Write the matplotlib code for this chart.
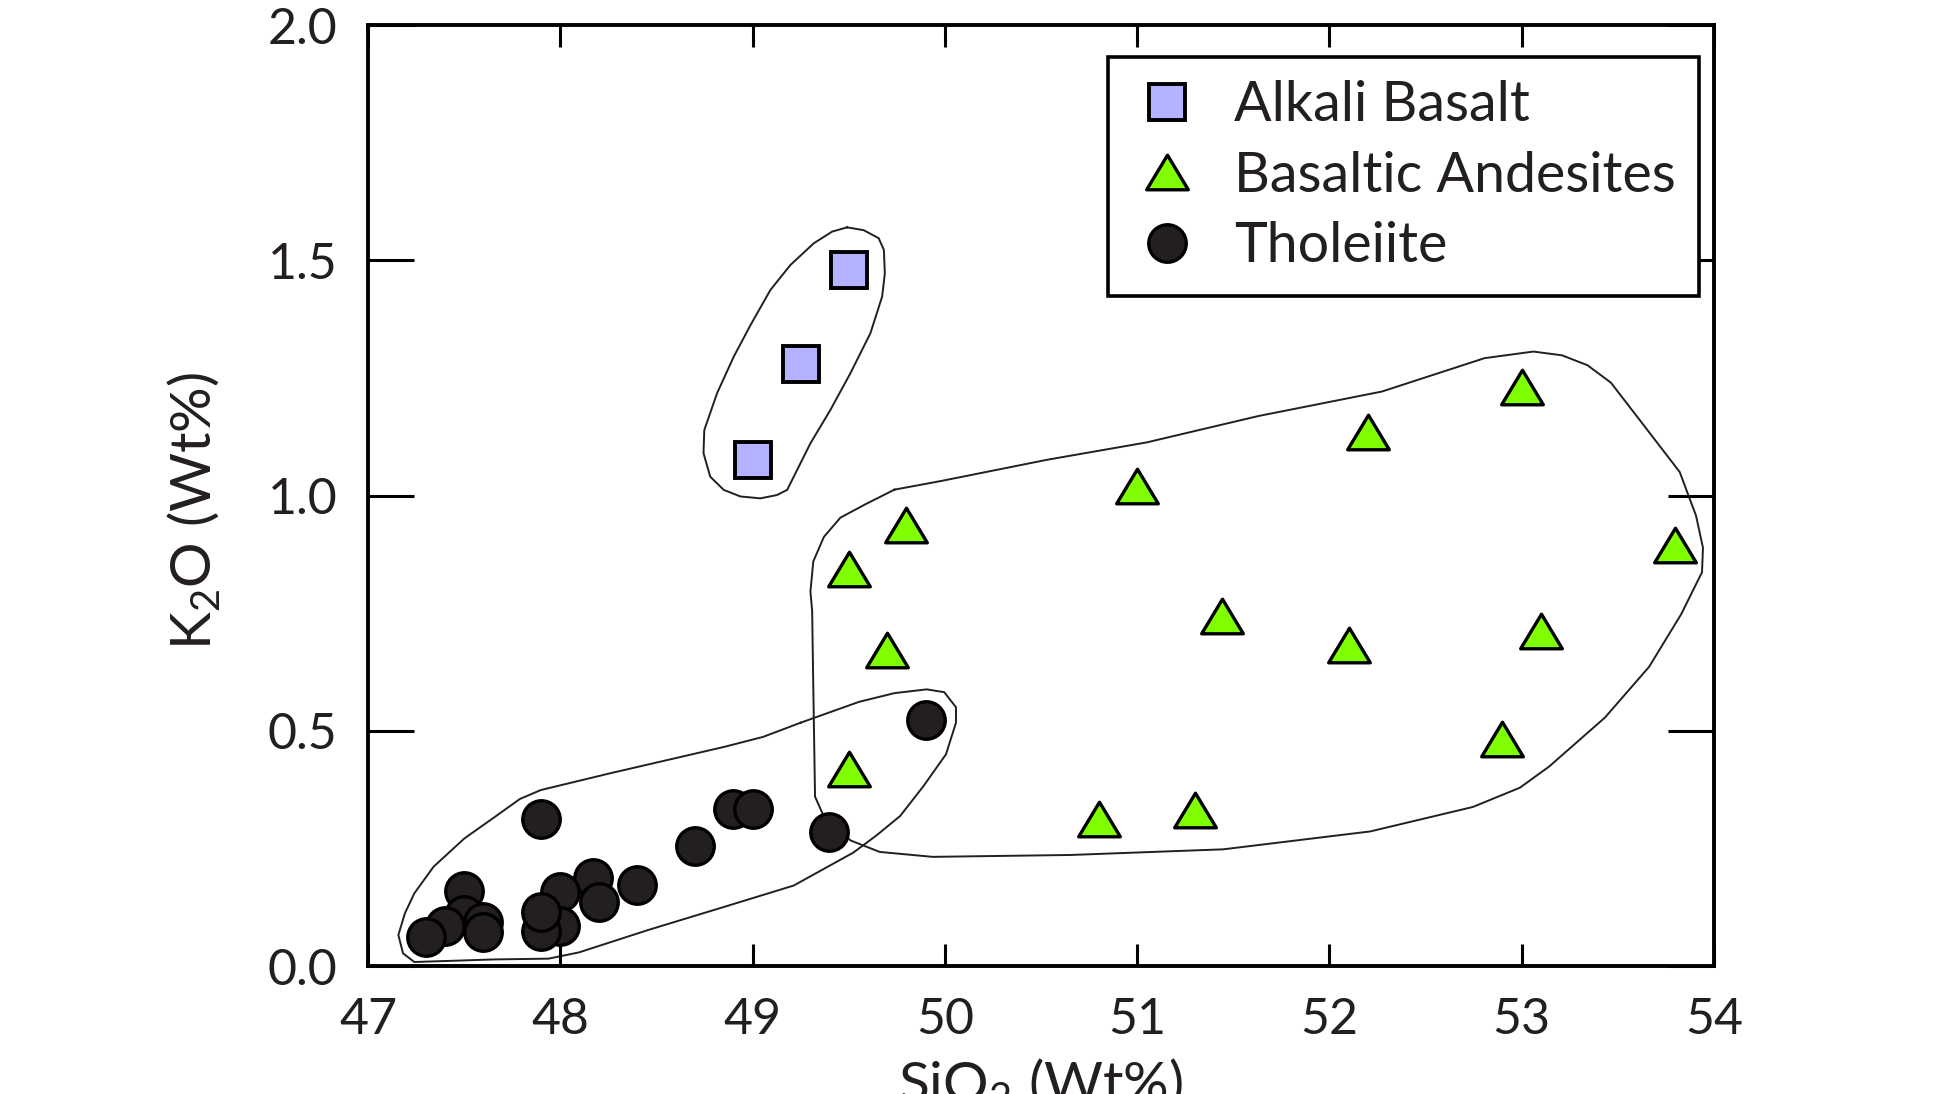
import matplotlib
matplotlib.use("Agg")
import matplotlib.pyplot as plt
from matplotlib.path import Path

plt.rcParams['font.family'] = ['Lato', 'DejaVu Sans']
plt.rcParams['mathtext.fontset'] = 'custom'
plt.rcParams['mathtext.rm'] = 'Lato'

# Data (SiO2 wt%, K2O wt%)
alkali_sio2 = [49.00, 49.25, 49.50]
alkali_k2o = [1.075, 1.28, 1.48]

andesite_sio2 = [53.00, 52.20, 51.00, 49.80, 49.50, 53.80, 51.44, 52.10,
                 53.10, 49.70, 52.90, 49.50, 50.80, 51.30]
andesite_k2o = [1.23, 1.136, 1.02, 0.938, 0.843, 0.895, 0.744, 0.682,
                0.712, 0.672, 0.482, 0.418, 0.312, 0.331]

thol_sio2 = [49.90, 49.40, 48.90, 49.00, 48.70, 47.90, 48.40, 48.17, 48.20,
             48.00, 48.00, 47.90, 47.90, 47.50, 47.50, 47.60, 47.60, 47.40, 47.30]
thol_k2o = [0.522, 0.284, 0.333, 0.333, 0.255, 0.312, 0.172, 0.188, 0.137,
            0.158, 0.084, 0.074, 0.115, 0.160, 0.108, 0.094, 0.073, 0.084, 0.062]

# hand-drawn field outlines
alkali_field_x = [49.492, 49.578, 49.656, 49.683, 49.688, 49.674, 49.613, 49.509, 49.405,
                  49.301, 49.180, 49.127, 49.041, 48.937, 48.850, 48.780, 48.745, 48.749,
                  48.815, 48.902, 48.989, 49.093, 49.197, 49.318, 49.414, 49.492]
alkali_field_y = [1.570, 1.564, 1.547, 1.522, 1.472, 1.423, 1.345, 1.260, 1.182,
                  1.111, 1.012, 1.001, 0.994, 0.998, 1.012, 1.040, 1.090, 1.139,
                  1.217, 1.295, 1.362, 1.437, 1.490, 1.536, 1.561, 1.570]

andesite_field_x = [49.738, 49.982, 50.532, 51.051, 51.631, 52.273, 52.807, 53.061, 53.210,
                    53.342, 53.464, 53.647, 53.822, 53.907, 53.943, 53.938, 53.830, 53.663,
                    53.433, 53.143, 52.991, 52.746, 52.212, 51.448, 50.654, 49.936, 49.661,
                    49.509, 49.365, 49.325, 49.316, 49.310, 49.301, 49.316, 49.371, 49.457,
                    49.585, 49.738]
andesite_field_y = [1.0125, 1.031, 1.076, 1.113, 1.169, 1.221, 1.292, 1.306, 1.298,
                    1.277, 1.240, 1.143, 1.050, 0.957, 0.889, 0.837, 0.748, 0.636,
                    0.528, 0.424, 0.379, 0.338, 0.286, 0.248, 0.236, 0.232, 0.2425,
                    0.267, 0.323, 0.360, 0.591, 0.755, 0.796, 0.860, 0.912, 0.953,
                    0.981, 1.0125]

thol_field_x = [49.249, 49.554, 49.738, 49.906, 49.997, 50.058, 50.058, 50.006, 49.890,
                49.768, 49.646, 49.524, 49.214, 48.855, 48.457, 48.098, 47.939, 47.660,
                47.241, 47.182, 47.158, 47.192, 47.241, 47.341, 47.501, 47.660, 47.790,
                47.899, 48.258, 48.855, 49.055, 49.249]
thol_field_y = [0.517, 0.5615, 0.580, 0.588, 0.582, 0.550, 0.517, 0.450, 0.383,
                0.319, 0.278, 0.241, 0.171, 0.126, 0.0765, 0.029, 0.0156, 0.014,
                0.0085, 0.027, 0.066, 0.112, 0.1545, 0.211, 0.271, 0.317, 0.355,
                0.374, 0.4095, 0.466, 0.487, 0.517]

# wide triangle marker
tri = Path([(-1, -0.83), (1, -0.83), (0, 0.83), (-1, -0.83)],
           [Path.MOVETO, Path.LINETO, Path.LINETO, Path.CLOSEPOLY])

fig = plt.figure(figsize=(19.45, 10.94), dpi=100)
ax = fig.add_axes([0.1892, 0.1170, 0.6920, 0.8601])

for fx, fy in [(alkali_field_x, alkali_field_y),
               (andesite_field_x, andesite_field_y),
               (thol_field_x, thol_field_y)]:
    ax.plot(fx, fy, color='#231F20', lw=1.4, zorder=1)

ax.plot(alkali_sio2, alkali_k2o, ls='none', marker='s', ms=26.5, mfc='#B3B3FF',
        mec='black', mew=2.8, label='Alkali Basalt', zorder=3)
ax.plot(andesite_sio2, andesite_k2o, ls='none', marker=tri, ms=30, mfc='#7FFF00',
        mec='black', mew=2.4, label='Basaltic Andesites', zorder=3)
ax.plot(thol_sio2, thol_k2o, ls='none', marker='o', ms=27, mfc='#231F20',
        mec='black', mew=2.4, label='Tholeiite', zorder=3)

ax.set_xlim(47, 54)
ax.set_ylim(0, 2.0)
ax.set_xticks(range(47, 55))
ax.set_xticks([50], minor=True)
ax.set_yticks([0, 0.5, 1.0, 1.5, 2.0])
ax.set_yticklabels(['0.0', '0.5', '1.0', '1.5', '2.0'])

ax.tick_params(axis='x', which='major', direction='in', length=16, width=2.2,
               top=True, labelsize=36, pad=22, labelcolor='#231F20')
ax.tick_params(axis='x', which='minor', direction='in', length=34, width=2.2, top=True)
ax.tick_params(axis='y', which='major', direction='in', length=33, width=2.2,
               right=True, labelsize=36, pad=22, labelcolor='#231F20')

for s in ax.spines.values():
    s.set_linewidth(2.8)

ax.set_xlabel(r'SiO$_\mathregular{2}$ (Wt%)', fontsize=41, labelpad=10, color='#231F20')
ax.set_ylabel(r'K$_\mathregular{2}$O (Wt%)', fontsize=41, color='#231F20')
ax.yaxis.set_label_coords(-0.108, 0.4835)

leg = ax.legend(loc='upper right', bbox_to_anchor=(0.989, 0.966), borderaxespad=0,
                fontsize=40, frameon=True, fancybox=False, framealpha=1,
                edgecolor='black', numpoints=1, handlelength=1.3,
                handletextpad=0.55, labelspacing=0.35, borderpad=0.42)
leg.get_frame().set_linewidth(2.6)
for t in leg.get_texts():
    t.set_color('#231F20')

fig.savefig('out.png', dpi=100)
